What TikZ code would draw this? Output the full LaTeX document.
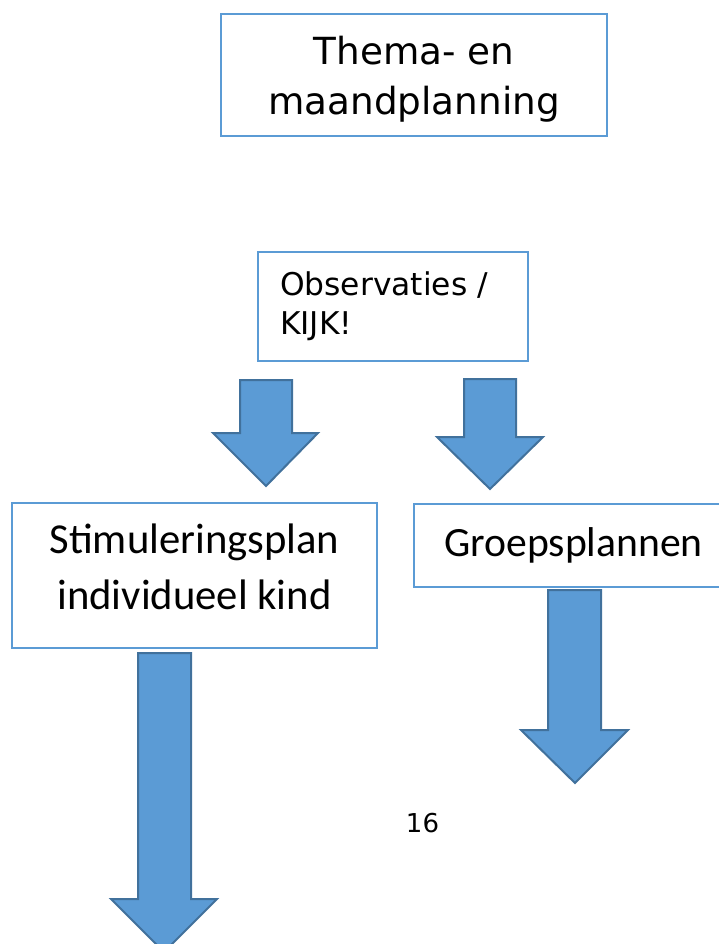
\documentclass[tikz,border=0pt]{standalone}
\usepackage{fontspec}
\newfontfamily\verdanafont{DejaVu Sans}
\newfontfamily\calibrifont{Carlito}
\definecolor{boxblue}{HTML}{5B9BD5}
\definecolor{arrowfill}{HTML}{5B9BD5}
\definecolor{arrowedge}{HTML}{41719C}

\begin{document}
\begin{tikzpicture}[x=0.75pt,y=-0.75pt,
  box/.style={draw=boxblue,line width=1.2pt,fill=white,inner sep=0pt},
  blockarrow/.style={fill=arrowfill,draw=arrowedge,line width=1.5pt,line join=miter}]%,cap=round,>=latex]

\useasboundingbox (0,0) rectangle (718,944);

\node [box,minimum width=289.5pt,minimum height=91.5pt,align=center,
  font=\verdanafont\fontsize{28}{37}\selectfont] (thema) at (414,75) {\rule{0pt}{27.5pt}Thema- en\\maandplanning};
\node [box,minimum width=202.5pt,minimum height=81.75pt,text width=169.5pt,align=left,
  font=\verdanafont\fontsize{23.5}{29}\selectfont] (observaties) at (393,306.5) {Observaties /\\KIJK!};
\node [box,minimum width=273.75pt,minimum height=108.75pt,align=center,
  font=\calibrifont\fontsize{32}{41.5}\selectfont] (stimulering) at (194.5,575.5) {Stimuleringsplan\\individueel kind\rule[-13pt]{0pt}{0pt}};
\node [box,minimum width=239.25pt,minimum height=62.25pt,
  font=\calibrifont\fontsize{31.25}{41.25}\selectfont] (groep) at (573.5,545.5) {Groepsplannen};

\draw [blockarrow] (240,380) -- (292,380) -- (292,433) -- (318,433) -- (266,486) -- (213,433) -- (240,433) -- cycle;
\draw [blockarrow] (464,379) -- (516,379) -- (516,437) -- (543,437) -- (490,489) -- (437,437) -- (464,437) -- cycle;
\draw [blockarrow] (138,653) -- (191,653) -- (191,899) -- (217,899) -- (164,952) -- (111,899) -- (138,899) -- cycle;
\draw [blockarrow] (548,590) -- (601,590) -- (601,730) -- (628,730) -- (575,783) -- (521,730) -- (548,730) -- cycle;

\node [font=\verdanafont\fontsize{19.5}{24}\selectfont,anchor=base] (page) at (422.5,832) {16};
\end{tikzpicture}
\end{document}
